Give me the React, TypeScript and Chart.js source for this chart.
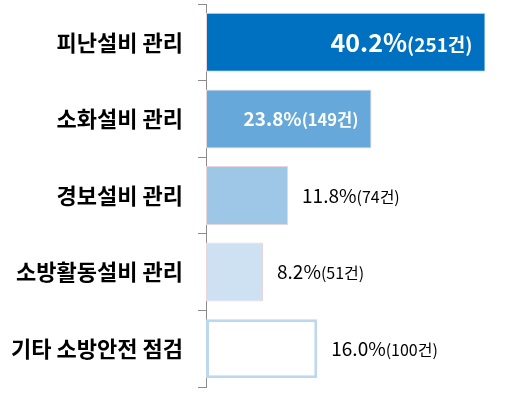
import React, { useEffect, useRef } from "react";
import { Chart, registerables } from "chart.js";

Chart.register(...registerables);

const categories = ["피난설비 관리", "소화설비 관리", "경보설비 관리", "소방활동설비 관리", "기타 소방안전 점검"];
const percents = [40.2, 23.8, 11.8, 8.2, 16.0];
const counts = [251, 149, 74, 51, 100];
const fillColors = ["#0070C0", "#66A8D9", "#9DC6E7", "#CDE1F2", "#FFFFFF"];
const edgeColors = ["#EAD6DA", "#EAD6DA", "#EAD6DA", "#EAD6DA", "#BDD7EE"];
const edgeWidths = [1, 1, 1, 1, 3];
const insideLabel = [true, true, false, false, false];
const bigSizes = [25, 19, 19, 19, 19];
const smallSizes = [19, 16.5, 16, 16, 16];

const FONT = "'Noto Sans CJK KR', 'Noto Sans', sans-serif";

const labelPlugin = {
  id: "barLabels",
  afterDatasetsDraw(chart: any) {
    const ctx = chart.ctx;
    const meta = chart.getDatasetMeta(0);
    meta.data.forEach((bar: any, i: number) => {
      const big = `${percents[i].toFixed(1)}%`;
      const small = `(${counts[i]}건)`;
      const inside = insideLabel[i];
      const weight = inside ? "bold" : "normal";
      const bigFont = `${weight} ${bigSizes[i]}px ${FONT}`;
      const smallFont = `${weight} ${smallSizes[i]}px ${FONT}`;
      ctx.save();
      ctx.textBaseline = "alphabetic";
      ctx.textAlign = "left";
      ctx.font = bigFont;
      const wBig = ctx.measureText(big).width;
      ctx.font = smallFont;
      const wSmall = ctx.measureText(small).width;
      const baseline = bar.y + bigSizes[i] * 0.37;
      let x0: number;
      if (inside) {
        x0 = bar.x - 13 - wBig - wSmall;
        ctx.fillStyle = "#FFFFFF";
      } else {
        x0 = bar.x + 14;
        ctx.fillStyle = "#000000";
      }
      ctx.font = bigFont;
      ctx.fillText(big, x0, baseline);
      ctx.font = smallFont;
      ctx.fillText(small, x0 + wBig, baseline);
      ctx.restore();
    });
  },
};

export default function App() {
  const ref = useRef<HTMLCanvasElement | null>(null);
  useEffect(() => {
    if (!ref.current) return;
    const chart = new Chart(ref.current, {
      type: "bar",
      data: {
        labels: categories,
        datasets: [
          {
            data: percents,
            backgroundColor: fillColors,
            borderColor: edgeColors,
            borderWidth: edgeWidths,
            borderSkipped: false,
            categoryPercentage: 1,
            barPercentage: 0.77,
          },
        ],
      },
      options: {
        indexAxis: "y",
        animation: false,
        responsive: true,
        maintainAspectRatio: false,
        layout: { padding: { top: 4, bottom: 9, left: 0, right: 6 } },
        plugins: { legend: { display: false }, tooltip: { enabled: false } },
        scales: {
          x: { display: false, min: 0, max: 43 },
          y: {
            offset: true,
            afterFit: (s: any) => {
              s.width = 206;
              s.paddingTop = 0;
              s.paddingBottom = 0;
            },
            grid: {
              offset: true,
              drawOnChartArea: false,
              drawTicks: true,
              tickLength: 8,
              color: "#8C8C8C",
              lineWidth: 1,
            },
            border: { display: true, color: "#8C8C8C", width: 1 },
            ticks: {
              padding: 15,
              color: "#000000",
              font: { family: FONT, size: 22, weight: "bold" },
            },
          },
        },
      },
      plugins: [labelPlugin],
    });
    return () => chart.destroy();
  }, []);
  return (
    <div style={{ position: "fixed", left: 0, top: 0, width: 511, height: 396, background: "#fff" }}>
      <canvas ref={ref} />
    </div>
  );
}
